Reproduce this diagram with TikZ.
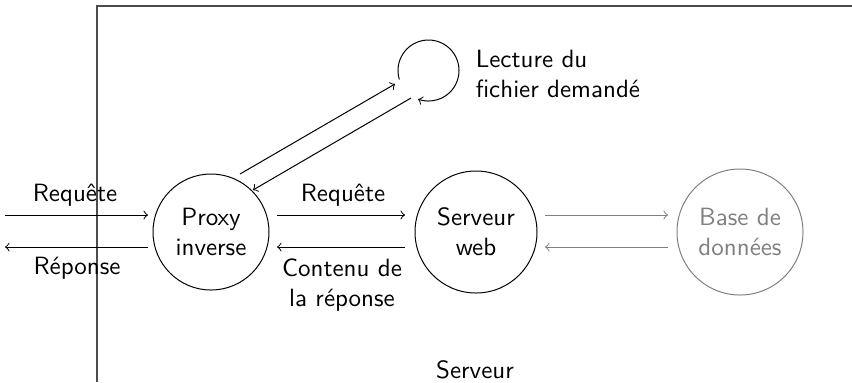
\documentclass[tikz,border=0pt]{standalone}
\usetikzlibrary{arrows}
\begin{document}
\begin{tikzpicture}[x=0.4pt,y=-0.4pt,
  every node/.style={font=\sffamily},
  actor/.style={circle,draw,align=center,inner sep=0pt},
  faded/.style={gray},
  flow/.style={->},
  frame/.style={draw=black!70,line width=0.6pt}]
\useasboundingbox (0,0) rectangle (852,382);

% server frame (open to the right and bottom)
\coordinate (fr1) at (852,6);
\coordinate (fr2) at (97,6);
\coordinate (fr3) at (97,382);
\draw[frame] (fr1) -- (fr2) -- (fr3);

% components
\node[actor,minimum size=46.4pt] (proxy) at (211,232) {Proxy\\inverse};
\node[actor,minimum size=48.8pt] (web) at (476,232) {Serveur\\web};
\node[actor,faded,minimum size=50.4pt] (db) at (740,232) {Base de\\données};

% client side
\coordinate (cin) at (5,215);
\coordinate (cout) at (5,247);
\coordinate (pin) at (148,215);
\coordinate (pout) at (148,247);
\draw[flow] (cin) -- (pin);
\draw[flow] (pout) -- (cout);
\node (q1) at (75,195) {Requête};
\node (r1) at (77,268) {Réponse};

% proxy <-> web server
\coordinate (pw1) at (277,215);
\coordinate (pw2) at (405,215);
\coordinate (wp1) at (405,247);
\coordinate (wp2) at (277,247);
\draw[flow] (pw1) -- (pw2);
\draw[flow] (wp1) -- (wp2);
\node (q2) at (343,195) {Requête};
\node[align=center] (r2) at (342,285) {Contenu de\\la réponse};

% web server <-> database
\coordinate (wd1) at (545,215);
\coordinate (wd2) at (668,215);
\coordinate (dw1) at (668,247);
\coordinate (dw2) at (545,247);
\draw[flow,faded] (wd1) -- (wd2);
\draw[flow,faded] (dw1) -- (dw2);

% file reading loop
\coordinate (lc) at (428.5,70.5);
\coordinate (p1) at (240,174);
\coordinate (l1) at (395,84);
\coordinate (l2) at (411,98);
\coordinate (p2) at (253,190);
\draw[flow] (p1) -- (l1);
\draw[flow] (lc) ++(163:30.5) arc[start angle=163,end angle=470,radius=30.5];
\draw[flow] (l2) -- (p2);
\node[align=left,anchor=west] (read) at (467,74) {Lecture du\\fichier demandé};

\node (srv) at (475,370) {Serveur};
\end{tikzpicture}
\end{document}
